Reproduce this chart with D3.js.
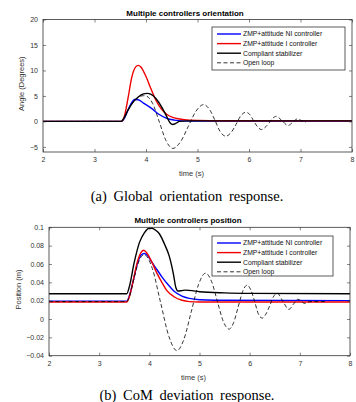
<!DOCTYPE html>
<html>
<head>
<meta charset="utf-8">
<script src="https://cdn.jsdelivr.net/npm/d3@7"></script>
<style>
  body { margin: 0; background: #fff; }
  svg { display: block; }
  .tick text { font-family: "Liberation Sans", Arial, sans-serif; font-size: 7px; fill: #333; }
  .tick line { stroke: #333; stroke-width: 0.6; }
</style>
</head>
<body>
<svg id="chart" width="356" height="402"></svg>
<script>
// series values, [time (s), value]
const legendLabels = ["ZMP+attitude NI controller", "ZMP+attitude I controller", "Compliant stabilizer", "Open loop"];
const xTicks = [2, 3, 4, 5, 6, 7, 8];
const angleTicks = [-5, 0, 5, 10, 15, 20];
const posTicks = [-0.04, -0.02, 0, 0.02, 0.04, 0.06, 0.08, 0.1];

const angleNI = [[2,0],[3.53,0],[3.58,0.6],[3.64,2],[3.7,3.3],[3.78,4.3],[3.85,4.25],[3.95,3.6],[4.1,2.6],[4.25,1.4],[4.4,0.6],[4.55,0.25],[4.7,0.1],[5,0.05],[8,0.05]];
const angleI = [[2,0],[3.52,0],[3.58,1],[3.65,4.5],[3.72,8.5],[3.8,10.7],[3.85,11],[3.9,10.7],[4.0,8.8],[4.1,6.3],[4.2,4],[4.3,2.4],[4.4,1.4],[4.55,0.7],[4.75,0.35],[5,0.2],[5.5,0.12],[8,0.1]];
const angleCS = [[2,0],[3.52,0],[3.58,0.8],[3.65,2.2],[3.75,3.8],[3.85,4.8],[3.95,5.4],[4.02,5.5],[4.1,5.3],[4.2,4.4],[4.3,2.9],[4.4,1.0],[4.47,-0.3],[4.52,-0.6],[4.58,-0.4],[4.65,0],[4.8,0.1],[8,0.1]];
const angleOL = [[2,0],[3.52,0],[3.58,0.8],[3.65,2.2],[3.75,3.8],[3.85,4.7],[3.95,5.05],[4.0,5.0],[4.13,3.5],[4.26,-0.15],[4.39,-3.8],[4.52,-5.3],[4.67,-4.0],[4.82,-1.0],[4.97,2.0],[5.12,3.3],[5.23,2.4],[5.34,0.2],[5.44,-2.0],[5.55,-2.9],[5.65,-2.2],[5.75,-0.55],[5.84,1.1],[5.94,1.8],[6.02,1.3],[6.09,0.1],[6.17,-1.1],[6.24,-1.6],[6.31,-1.2],[6.39,-0.3],[6.46,0.6],[6.53,1.0],[6.645,0.1],[6.76,-0.8],[6.85,-0.15],[6.94,0.5],[7.02,0.15],[7.1,-0.2]];

const posNI = [[2,0.0195],[3.55,0.0195],[3.6,0.025],[3.68,0.042],[3.76,0.06],[3.84,0.07],[3.9,0.0715],[3.97,0.069],[4.05,0.062],[4.15,0.054],[4.25,0.046],[4.35,0.039],[4.5,0.030],[4.65,0.025],[4.8,0.0225],[5.0,0.021],[5.3,0.0205],[8,0.020]];
const posI = [[2,0.0185],[3.55,0.0185],[3.6,0.024],[3.68,0.042],[3.76,0.062],[3.84,0.073],[3.89,0.075],[3.95,0.072],[4.05,0.062],[4.15,0.050],[4.25,0.040],[4.35,0.031],[4.5,0.024],[4.65,0.0205],[4.8,0.019],[5.0,0.0185],[8,0.0185]];
const posCS = [[2,0.0275],[3.55,0.0275],[3.6,0.035],[3.7,0.062],[3.8,0.083],[3.9,0.094],[4.0,0.099],[4.05,0.099],[4.12,0.097],[4.2,0.093],[4.3,0.082],[4.4,0.068],[4.48,0.049],[4.53,0.034],[4.57,0.0305],[4.65,0.031],[4.72,0.0315],[4.85,0.031],[5.0,0.0298],[5.5,0.0285],[6,0.028],[8,0.0275]];
const posOL = [[2,0.019],[3.55,0.019],[3.6,0.024],[3.68,0.041],[3.76,0.058],[3.84,0.068],[3.9,0.070],[4.06,0.055],[4.225,0.0178],[4.39,-0.019],[4.55,-0.0345],[4.69,-0.022],[4.835,0.0078],[4.98,0.0375],[5.12,0.050],[5.24,0.041],[5.355,0.0195],[5.47,-0.002],[5.59,-0.011],[5.68,-0.004],[5.77,0.013],[5.86,0.030],[5.95,0.037],[6.02,0.032],[6.1,0.019],[6.17,0.006],[6.25,0.001],[6.32,0.005],[6.4,0.0145],[6.47,0.024],[6.55,0.028],[6.665,0.019],[6.78,0.0105],[6.87,0.016],[6.96,0.0215],[7.1,0.017],[7.2,0.019],[7.5,0.019]];

const colors = ["#0000ff", "#ee0000", "#000000", "#000000"];

const svg = d3.select("#chart");

function drawPanel(cfg) {
  const w = cfg.right - cfg.left;
  const h = cfg.bottom - cfg.top;
  const g = svg.append("g").attr("transform", `translate(${cfg.left},${cfg.top})`);

  const x = d3.scaleLinear().domain([2, 8]).range([0, w]);
  const y = d3.scaleLinear().domain(cfg.yDomain).range([h, 0]);

  const line = d3.line()
    .x(d => x(d[0]))
    .y(d => y(d[1]))
    .curve(d3.curveMonotoneX);

  cfg.series.forEach((s, i) => {
    g.append("path")
      .datum(s)
      .attr("fill", "none")
      .attr("stroke", colors[i])
      .attr("stroke-width", i == 3 ? 0.8 : 1.4)
      .attr("stroke-dasharray", i == 3 ? "4,2.5" : null)
      .attr("d", line);
  });

  // axes, ticks pointing inward on all sides
  g.append("g").attr("transform", `translate(0,${h})`)
    .call(d3.axisBottom(x).tickValues(xTicks).tickFormat(d3.format("d")).tickSizeInner(-3).tickSizeOuter(0).tickPadding(5))
    .call(a => a.select(".domain").remove());
  g.append("g")
    .call(d3.axisTop(x).tickValues(xTicks).tickSizeInner(-3).tickSizeOuter(0).tickFormat(""))
    .call(a => a.select(".domain").remove());
  g.append("g")
    .call(d3.axisLeft(y).tickValues(cfg.yTicks).tickSizeInner(-3).tickSizeOuter(0).tickPadding(5).tickFormat(cfg.fmt))
    .call(a => a.select(".domain").remove());
  g.append("g").attr("transform", `translate(${w},0)`)
    .call(d3.axisRight(y).tickValues(cfg.yTicks).tickSizeInner(-3).tickSizeOuter(0).tickFormat(""))
    .call(a => a.select(".domain").remove());

  g.append("rect")
    .attr("width", w).attr("height", h)
    .attr("fill", "none").attr("stroke", "#333").attr("stroke-width", 0.8);

  // legend
  const lg = svg.append("g").attr("transform", `translate(${cfg.legend[0]},${cfg.legend[1]})`);
  lg.append("rect")
    .attr("width", cfg.legend[2]).attr("height", cfg.legend[3])
    .attr("fill", "#fff").attr("stroke", "#333").attr("stroke-width", 0.8);
  legendLabels.forEach((lab, i) => {
    const yy = 7 + i * 9.6;
    lg.append("line")
      .attr("x1", 5).attr("x2", 29).attr("y1", yy).attr("y2", yy)
      .attr("stroke", colors[i])
      .attr("stroke-width", i == 3 ? 0.8 : 1.4)
      .attr("stroke-dasharray", i == 3 ? "4,2.5" : null);
    lg.append("text")
      .attr("x", 31).attr("y", yy + 2.4)
      .attr("font-family", "Liberation Sans, Arial, sans-serif")
      .attr("font-size", 6.8).attr("fill", "#111")
      .text(lab);
  });

  svg.append("text")
    .attr("x", cfg.titleX).attr("y", cfg.top - 4)
    .attr("text-anchor", "middle")
    .attr("font-family", "Liberation Sans, Arial, sans-serif")
    .attr("font-weight", "bold").attr("font-size", 8).attr("fill", "#000")
    .text(cfg.title);

  svg.append("text")
    .attr("x", (cfg.left + cfg.right) / 2 - 6).attr("y", cfg.bottom + 24)
    .attr("text-anchor", "middle")
    .attr("font-family", "Liberation Sans, Arial, sans-serif")
    .attr("font-size", 7.5).attr("fill", "#333")
    .text("time (s)");

  svg.append("text")
    .attr("transform", `translate(${cfg.ylabelX},${(cfg.top + cfg.bottom) / 2 - 2}) rotate(-90)`)
    .attr("text-anchor", "middle")
    .attr("font-family", "Liberation Sans, Arial, sans-serif")
    .attr("font-size", 7.5).attr("fill", "#333")
    .text(cfg.ylabel);

  svg.append("text")
    .attr("x", 187).attr("y", cfg.captionY)
    .attr("text-anchor", "middle")
    .attr("font-family", "Liberation Serif, Times New Roman, serif")
    .attr("font-size", 14.5).attr("fill", "#000")
    .attr("word-spacing", 3)
    .text(cfg.caption);
}

drawPanel({
  left: 43, right: 352, top: 19.5, bottom: 152,
  yDomain: [-6, 20], yTicks: angleTicks, fmt: d3.format("d"),
  series: [angleNI, angleI, angleCS, angleOL],
  legend: [212, 27, 133, 43],
  title: "Multiple controllers orientation", titleX: 185,
  ylabel: "Angle (Degrees)", ylabelX: 24,
  caption: "(a)  Global orientation response.", captionY: 201
});

drawPanel({
  left: 49, right: 350, top: 227.3, bottom: 355.7,
  yDomain: [-0.04, 0.1], yTicks: posTicks, fmt: d => d === 0 ? "0" : d3.format("")(+d.toFixed(2)),
  series: [posNI, posI, posCS, posOL],
  legend: [212, 236, 121, 40],
  title: "Multiple controllers position", titleX: 188,
  ylabel: "Position (m)", ylabelX: 21,
  caption: "(b)  CoM deviation response.", captionY: 400
});
</script>
</body>
</html>
